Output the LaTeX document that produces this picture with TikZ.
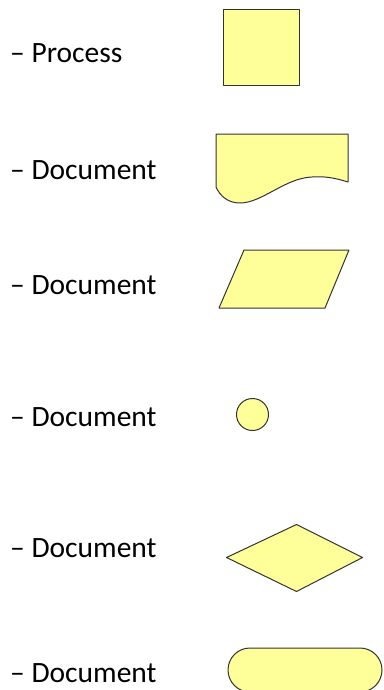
\documentclass[tikz,border=0pt]{standalone}
\usepackage{fontspec}
\setmainfont{Carlito}
\definecolor{shapefill}{HTML}{FFFF99}
\definecolor{shapeline}{HTML}{333333}
\begin{document}
\begin{tikzpicture}[
  x=1pt, y=-1pt,
  line cap=round, line join=round,
  every node/.style={font=\fontsize{29.5}{35}\selectfont, inner sep=0pt, anchor=base west},
  symbol/.style={fill=shapefill, draw=shapeline, line width=1pt},
]
\useasboundingbox (0,0) rectangle (383,690);
% labels
\node (lprocess) at (10,63) {– Process};
\node (ldocument) at (10,179) {– Document};
\node (ldata) at (10,294) {– Document};
\node (lconnector) at (10,426) {– Document};
\node (ldecision) at (10,557) {– Document};
\node (lterminal) at (10,682) {– Document};
% symbols
\draw[symbol] (223,10) rectangle (299,86);
\draw[symbol] (216,134) -- (348,134) -- (348,182)
  .. controls (335,178) and (325,176) .. (312,177)
  .. controls (285,178) and (262,203) .. (240,203)
  .. controls (228,203) and (220,196) .. (216,187) -- cycle;
\draw[symbol] (244,250) -- (349,250) -- (325,308) -- (219,308) -- cycle;
\draw[symbol] (252.5,414.5) circle (16);
\draw[symbol] (226.5,557.5) -- (296.5,524.5) -- (362.5,557.5) -- (296.5,591.5) -- cycle;
\draw[symbol, rounded corners=22pt] (228,648) rectangle (382,692);
\end{tikzpicture}
\end{document}
